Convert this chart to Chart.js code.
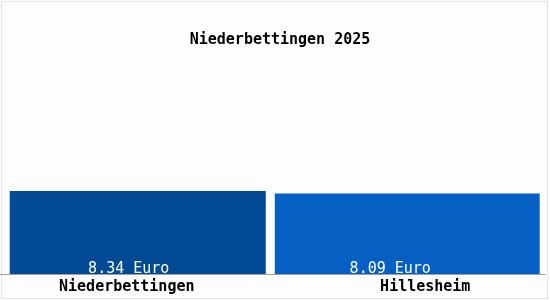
<!DOCTYPE html>
<html>
<head>
<meta charset="utf-8">
<script src="https://cdn.jsdelivr.net/npm/chart.js@4/dist/chart.umd.min.js"></script>
<style>
    html, body { margin: 0; padding: 0; background: #ffffff; }
    #wrap { width: 550px; height: 300px; }
</style>
</head>
<body>
<div id="wrap"><canvas id="priceChart" width="550" height="300"></canvas></div>
<script>
// --- Data ---
let chartTitle = 'Niederbettingen 2025';
let places = ['Niederbettingen', 'Hillesheim'];
let prices = [8.34, 8.09];
let priceLabels = ['8.34 Euro', '8.09 Euro'];
let barColors = ['#034a94', '#0660c4'];

let monoFont = 'DejaVu Sans Mono';

// Background, thin frame, title and base line
let backgroundPlugin = {
    id: 'background',
    beforeDraw: function (chart) {
        let ctx = chart.ctx;
        ctx.save();
        ctx.fillStyle = '#fdfdfd';
        ctx.fillRect(0, 0, chart.width, chart.height);
        ctx.strokeStyle = '#e4e4e4';
        ctx.lineWidth = 1;
        ctx.strokeRect(1.5, 1.5, chart.width - 4, chart.height - 3);

        ctx.fillStyle = '#000000';
        ctx.font = 'bold 15px "' + monoFont + '"';
        ctx.textAlign = 'center';
        ctx.textBaseline = 'alphabetic';
        ctx.fillText(chartTitle, 280, 44);
        ctx.restore();
    },
    afterDatasetsDraw: function (chart) {
        let ctx = chart.ctx;
        let y = Math.round(chart.chartArea.bottom) + 0.5;
        ctx.save();
        ctx.strokeStyle = '#a0a0a0';
        ctx.lineWidth = 1;
        ctx.beginPath();
        ctx.moveTo(0, y);
        ctx.lineTo(546, y);
        ctx.stroke();
        ctx.restore();
    }
};

// Value text inside bars and place names under the axis
let labelPlugin = {
    id: 'barLabels',
    afterDatasetsDraw: function (chart) {
        let ctx = chart.ctx;
        let bottom = chart.chartArea.bottom;
        let valueShift = [-9, -17];
        let nameShift = [-11, 18];
        ctx.save();
        ctx.textAlign = 'center';
        ctx.textBaseline = 'alphabetic';
        chart.data.datasets.forEach(function (ds, d) {
            let bar = chart.getDatasetMeta(d).data[d];
            ctx.fillStyle = '#ffffff';
            ctx.font = '15px "' + monoFont + '"';
            ctx.fillText(priceLabels[d], bar.x + valueShift[d], bottom - 1);
            ctx.fillStyle = '#000000';
            ctx.font = 'bold 15px "' + monoFont + '"';
            ctx.fillText(places[d], bar.x + nameShift[d], bottom + 17);
        });
        ctx.restore();
    }
};

let priceCanvas = document.getElementById('priceChart').getContext('2d');

let priceChart = new Chart(priceCanvas, {
    type: 'bar',
    data: {
        labels: places,
        datasets: [
            {
                label: places[0],
                data: [prices[0], null],
                backgroundColor: barColors[0],
                borderWidth: 0,
                grouped: false,
                categoryPercentage: 1,
                barPercentage: 0.95
            },
            {
                label: places[1],
                data: [null, prices[1]],
                backgroundColor: barColors[1],
                borderWidth: 0,
                grouped: false,
                categoryPercentage: 1,
                barPercentage: 0.983
            }
        ]
    },
    options: {
        responsive: false,
        animation: false,
        layout: {
            padding: { left: 3, right: 8, top: 60, bottom: 26 }
        },
        plugins: {
            legend: { display: false },
            tooltip: { enabled: false },
            title: { display: false }
        },
        scales: {
            x: {
                grid: { display: false, drawTicks: false },
                border: { display: false },
                ticks: { display: false }
            },
            y: {
                display: false,
                min: 0,
                max: 21.5
            }
        }
    },
    plugins: [backgroundPlugin, labelPlugin]
});
</script>
</body>
</html>
